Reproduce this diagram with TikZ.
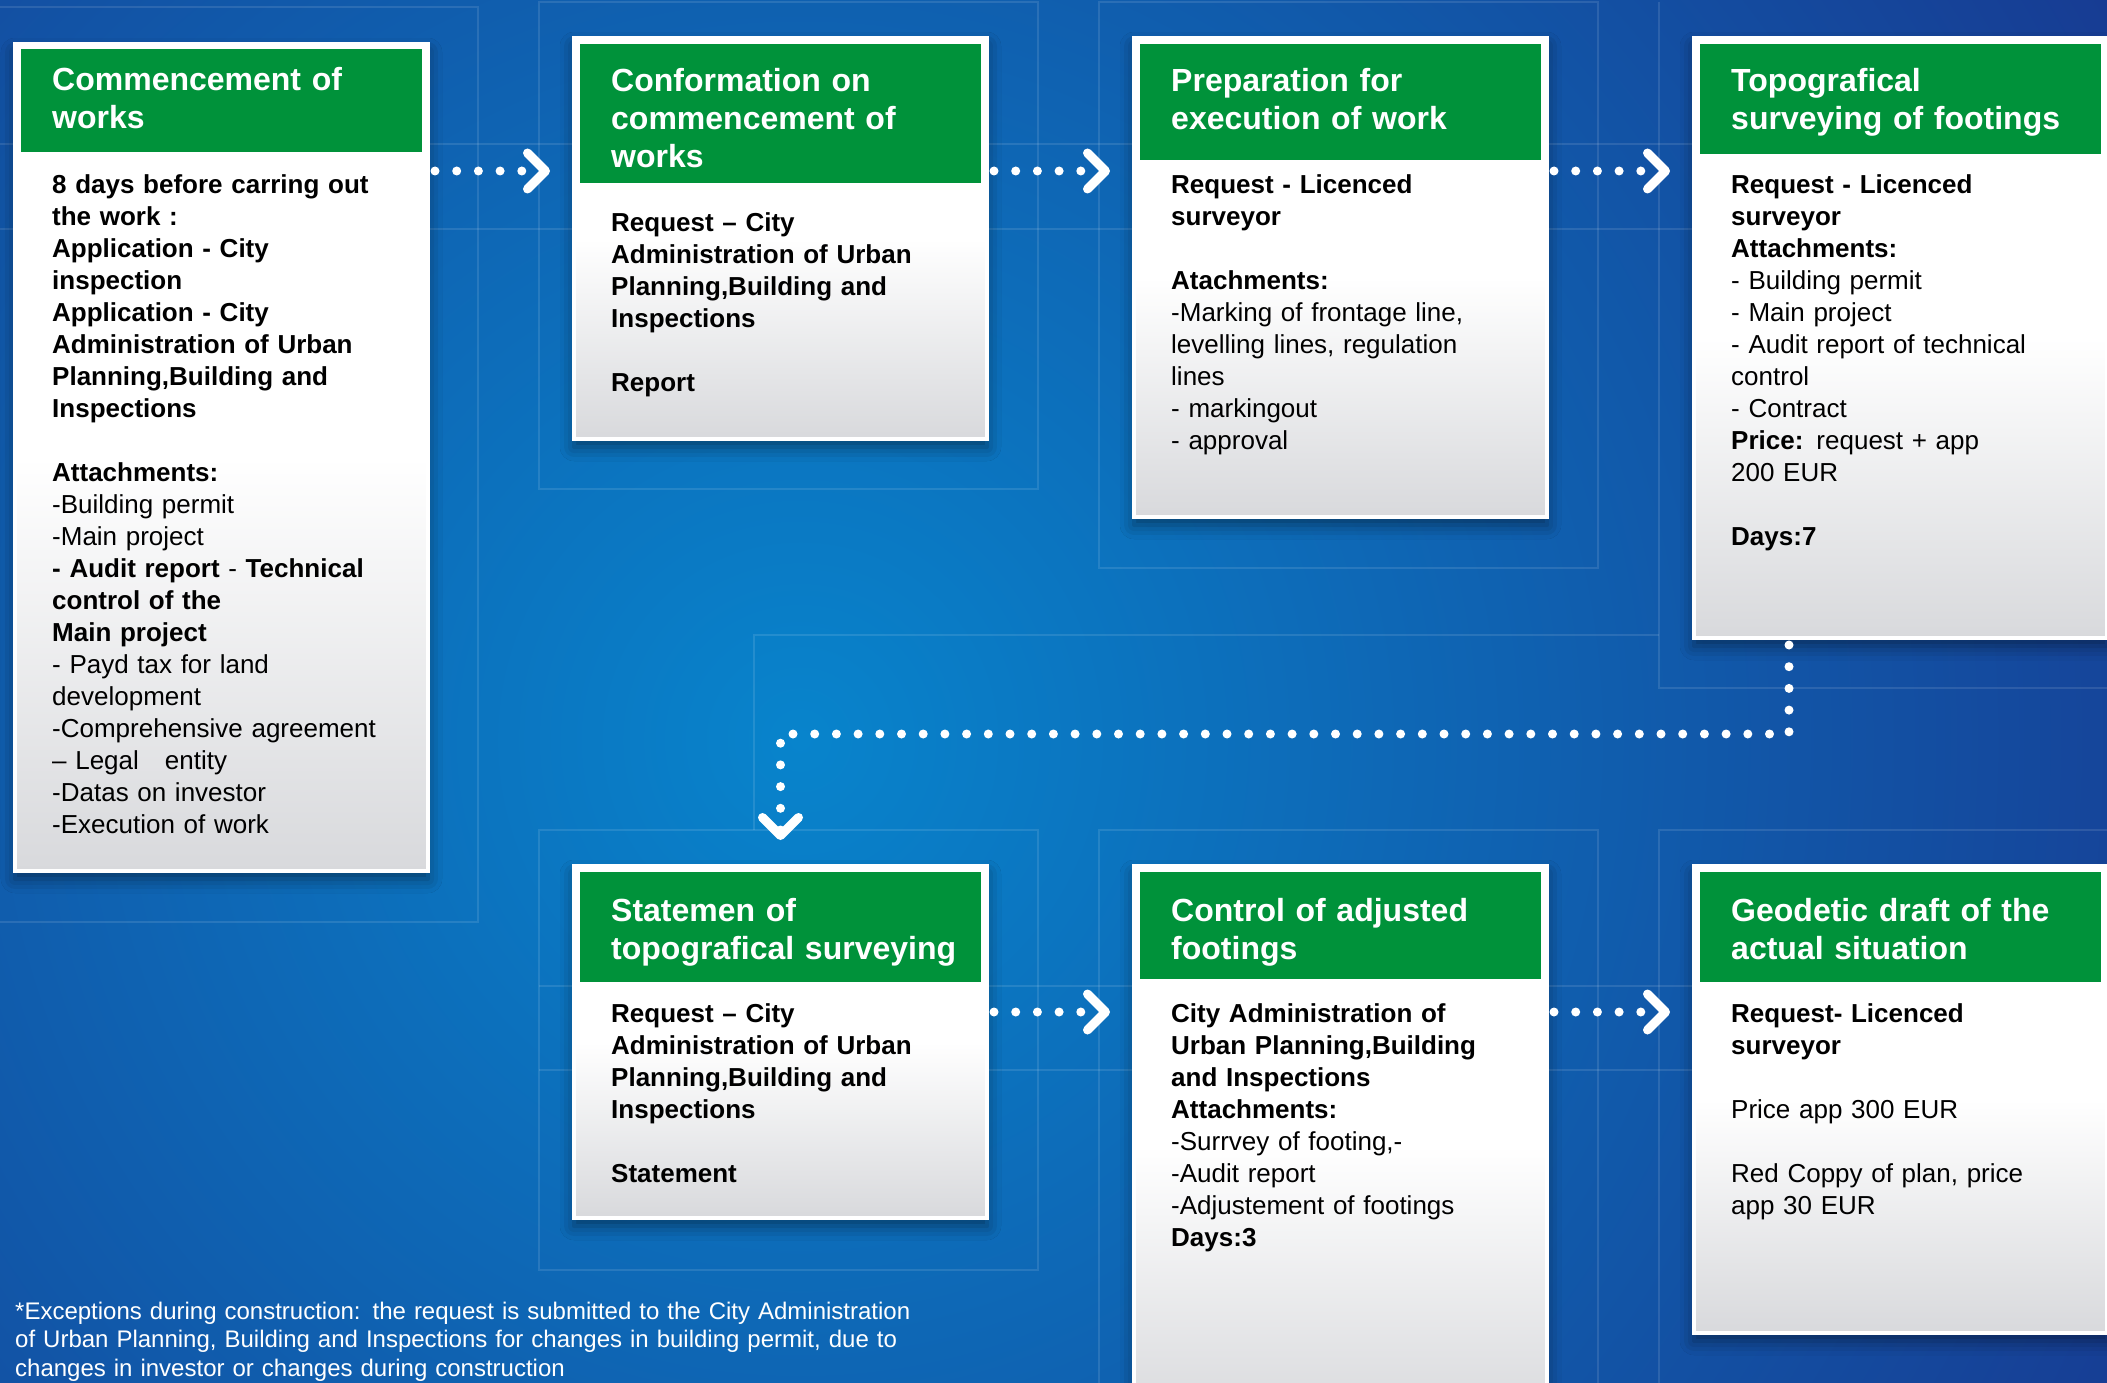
\documentclass[tikz,border=0pt]{standalone}
\usepackage{fontspec}
\setmainfont{Liberation Sans}
\usetikzlibrary{arrows.meta, shadows.blur}

\definecolor{bglight}{RGB}{8,132,204}
\definecolor{bgdark}{RGB}{28,36,128}
\definecolor{headgreen}{RGB}{0,146,58}
\definecolor{boxgrey}{RGB}{216,217,220}

\tikzset{
  stepbox/.style={draw=white, line width=4pt, anchor=north west, inner sep=0pt,
    top color=white, bottom color=boxgrey, middle color=white, minimum width=413pt,
    blur shadow={shadow xshift=0pt, shadow yshift=-8pt, shadow blur radius=14pt, shadow opacity=45}},
  headtext/.style={anchor=base west, inner sep=0pt, text=white, text width=390pt, align=left,
    font=\bfseries\fontsize{32}{38}\selectfont},
  bodytext/.style={anchor=base west, inner sep=0pt, text width=390pt, align=left,
    font=\fontsize{26}{32}\selectfont},
  flow/.style={draw=white, line width=9pt, line cap=round, dash pattern=on 0pt off 21.7pt,
    shorten <=5pt, shorten >=22pt,
    -{Straight Barb[length=18pt, width=36pt, line width=9pt, round]}},
  gridline/.style={draw=white, opacity=0.11, line width=1.2pt},
}

\begin{document}
\begin{tikzpicture}[x=1pt, y=-1pt]
    \useasboundingbox (0,0) rectangle (2107,1383);
    \clip (0,0) rectangle (2107,1383);

    % background
    \fill[bgdark] (0,0) rectangle (2107,1383);
    \shade[inner color=bglight, outer color=bgdark] (-1200,-1260) rectangle (2800,2740);

    \draw[gridline] (0,7) -- (478,7) -- (478,922) -- (0,922);
    \draw[gridline] (539,2) rectangle (1038,489);
    \draw[gridline] (1099,2) rectangle (1598,568);
    \draw[gridline] (1659,2) -- (1659,688) -- (2107,688);
    \draw[gridline] (0,144) -- (2107,144) (0,229) -- (2107,229);
    \draw[gridline] (539,986) -- (2107,986) (539,1070) -- (2107,1070);
    \draw[gridline] (754,830) -- (754,635) -- (1659,635);
    \draw[gridline] (539,830) rectangle (1038,1270);
    \draw[gridline] (1099,1383) -- (1099,830) -- (1598,830) -- (1598,1383);
    \draw[gridline] (1659,1383) -- (1659,830) -- (2107,830);

    % steps
    \node[stepbox, minimum height=827pt] (s1) at (13,42) {};
    \node[stepbox, minimum height=401pt] (s2) at (572,36) {};
    \node[stepbox, minimum height=479pt] (s3) at (1132,36) {};
    \node[stepbox, minimum height=600pt] (s4) at (1692,36) {};
    \node[stepbox, minimum height=352pt] (s5) at (572,864) {};
    \node[stepbox, minimum height=560pt] (s6) at (1132,864) {};
    \node[stepbox, minimum height=467pt] (s7) at (1692,864) {};

    \fill[headgreen] (21,49) rectangle ++(401,103);
    \fill[headgreen] (580,44) rectangle ++(401,139);
    \fill[headgreen] (1140,44) rectangle ++(401,116);
    \fill[headgreen] (1700,44) rectangle ++(401,110);
    \fill[headgreen] (580,872) rectangle ++(401,110);
    \fill[headgreen] (1140,872) rectangle ++(401,107);
    \fill[headgreen] (1700,872) rectangle ++(401,110);

    \node[headtext] (h1) at (52,91) {Commencement of\\works};
    \node[headtext] (h2) at (611,92) {Conformation on\\commencement of\\works};
    \node[headtext] (h3) at (1171,92) {Preparation for\\execution of work};
    \node[headtext] (h4) at (1731,92) {Topografical\\surveying of footings};
    \node[headtext] (h5) at (611,921) {Statemen of\\topografical surveying};
    \node[headtext] (h6) at (1171,921) {Control of adjusted\\footings};
    \node[headtext] (h7) at (1731,921) {Geodetic draft of the\\actual situation};

    \node[bodytext] (b1) at (52,194) {{\bfseries 8 days before carring out\\the work :\\Application - City\\inspection\\Application - City\\Administration of Urban\\Planning,Building and\\Inspections}\\[32pt]
      {\bfseries Attachments:}\\-Building permit\\-Main project\\{\bfseries - Audit report} - {\bfseries Technical\\control of the\\Main project}\\- Payd tax for land\\development\\-Comprehensive agreement\\– Legal~~~entity\\-Datas on investor\\-Execution of work};
    \node[bodytext, font=\bfseries\fontsize{26}{32}\selectfont] (b2) at (611,232) {Request – City\\Administration of Urban\\Planning,Building and\\Inspections\\[32pt]Report};
    \node[bodytext] (b3) at (1171,194) {{\bfseries Request - Licenced\\surveyor}\\[32pt]{\bfseries Atachments:}\\-Marking of frontage line,\\levelling lines, regulation\\lines\\- markingout\\- approval};
    \node[bodytext] (b4) at (1731,194) {{\bfseries Request - Licenced\\surveyor\\Attachments:}\\- Building permit\\- Main project\\- Audit report of technical\\control\\- Contract\\\textbf{Price:} request + app\\200 EUR\\[32pt]\textbf{Days:7}};
    \node[bodytext, font=\bfseries\fontsize{26}{32}\selectfont] (b5) at (611,1022) {Request – City\\Administration of Urban\\Planning,Building and\\Inspections\\[32pt]Statement};
    \node[bodytext] (b6) at (1171,1022) {{\bfseries City Administration of\\Urban Planning,Building\\and Inspections\\Attachments:}\\-Surrvey of footing,-\\-Audit report\\-Adjustement of footings\\\textbf{Days:3}};
    \node[bodytext] (b7) at (1731,1022) {{\bfseries Request- Licenced\\surveyor}\\[32pt]Price app 300 EUR\\[32pt]Red Coppy of plan, price\\app 30 EUR};

    % connectors
    \coordinate (toprow) at (0,171);
    \coordinate (lowrow) at (0,1012);
    \coordinate (turn) at (1789,734);
    \draw[flow] (s1.east |- toprow) -- (s2.west |- toprow);
    \draw[flow] (s2.east |- toprow) -- (s3.west |- toprow);
    \draw[flow] (s3.east |- toprow) -- (s4.west |- toprow);
    \draw[flow, shorten >=24pt] (s4.south -| turn) -- (turn) -- (turn -| s5.north) -- (s5.north);
    \draw[flow] (s5.east |- lowrow) -- (s6.west |- lowrow);
    \draw[flow] (s6.east |- lowrow) -- (s7.west |- lowrow);

    \node[anchor=base west, inner sep=0pt, text=white, text width=1000pt, align=left,
      font=\fontsize{24}{28.5}\selectfont] (note) at (15,1319) {*Exceptions during construction: the request is submitted to the City Administration\\of Urban Planning, Building and Inspections for changes in building permit, due to\\changes in investor or changes during construction};
\end{tikzpicture}
\end{document}
